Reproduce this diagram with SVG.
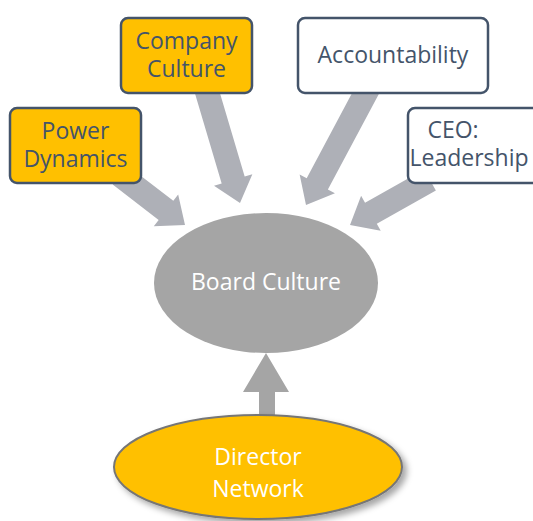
<svg xmlns="http://www.w3.org/2000/svg" width="533" height="521" viewBox="0 0 533 521">
  <defs>
    <filter id="softShadow" x="-10%" y="-20%" width="125%" height="150%">
      <feDropShadow dx="4" dy="4" stdDeviation="3" flood-color="#000" flood-opacity="0.35"/>
    </filter>
  </defs>
  <style>
    .box { stroke: #44546A; stroke-width: 2.5; }
    .gold { fill: #FFC000; }
    .plain { fill: #FFFFFF; }
    .lbl { font-family: "Open Sans", "Liberation Sans", sans-serif; font-size: 23px; fill: #44546A; text-anchor: middle; }
    .light { fill: #FFFFFF; }
    .arrow { fill: #AEB0B7; }
    .uparrow { fill: #A5A5A5; }
  </style>

  <!-- central node -->
  <g id="board-culture">
    <ellipse cx="266" cy="283" rx="112" ry="70" fill="#A5A5A5"/>
    <text class="lbl light" x="266" y="290">Board Culture</text>
  </g>

  <!-- block arrows feeding the central node -->
  <g id="connectors">
    <!-- Power Dynamics -> Board Culture -->
    <polygon class="arrow" points="112.68,184.51 158.66,219.88 153.79,226.22 185,225 178.17,194.52 173.30,200.86 127.32,165.49"/>
    <!-- Company Culture -> Board Culture -->
    <polygon class="arrow" points="193.50,88.41 221.68,183.40 214.01,185.68 240,203 252.35,174.30 244.68,176.58 216.50,81.59"/>
    <!-- Accountability -> Board Culture -->
    <polygon class="arrow" points="359.41,79.35 306.70,178.17 299.64,174.41 306,205 334.94,193.23 327.88,189.47 380.59,90.65"/>
    <!-- CEO: Leadership -> Board Culture -->
    <polygon class="arrow" points="424.12,169.54 365.04,202.77 361.11,195.80 350,225 380.73,230.66 376.80,223.69 435.88,190.46"/>
    <!-- Director Network -> Board Culture -->
    <polygon class="uparrow" points="259,425 259,392 243,392 266,353 289,392 275,392 275,425"/>
  </g>

  <g id="power-dynamics">
    <rect class="box gold" x="10" y="108" width="131" height="75" rx="7"/>
    <text class="lbl" x="75.5" y="138.5">Power</text>
    <text class="lbl" x="75.5" y="167">Dynamics</text>
  </g>

  <g id="company-culture">
    <rect class="box gold" x="121" y="18" width="131" height="75" rx="7"/>
    <text class="lbl" x="186.5" y="49">Company</text>
    <text class="lbl" x="186.5" y="77">Culture</text>
  </g>

  <g id="accountability">
    <rect class="box plain" x="298" y="18" width="190" height="75" rx="7"/>
    <text class="lbl" x="393" y="63">Accountability</text>
  </g>

  <g id="ceo-leadership">
    <rect class="box plain" x="408" y="108" width="140" height="75" rx="7"/>
    <text class="lbl" x="453" y="138">CEO:</text>
    <text class="lbl" x="409.5" y="165.5" style="text-anchor:start">Leadership</text>
  </g>

  <g id="director-network">
    <ellipse cx="258" cy="467" rx="144" ry="52" fill="#FFC000" stroke="#767676" stroke-width="2" filter="url(#softShadow)"/>
    <text class="lbl light" x="258" y="465">Director</text>
    <text class="lbl light" x="258" y="497">Network</text>
  </g>
</svg>
